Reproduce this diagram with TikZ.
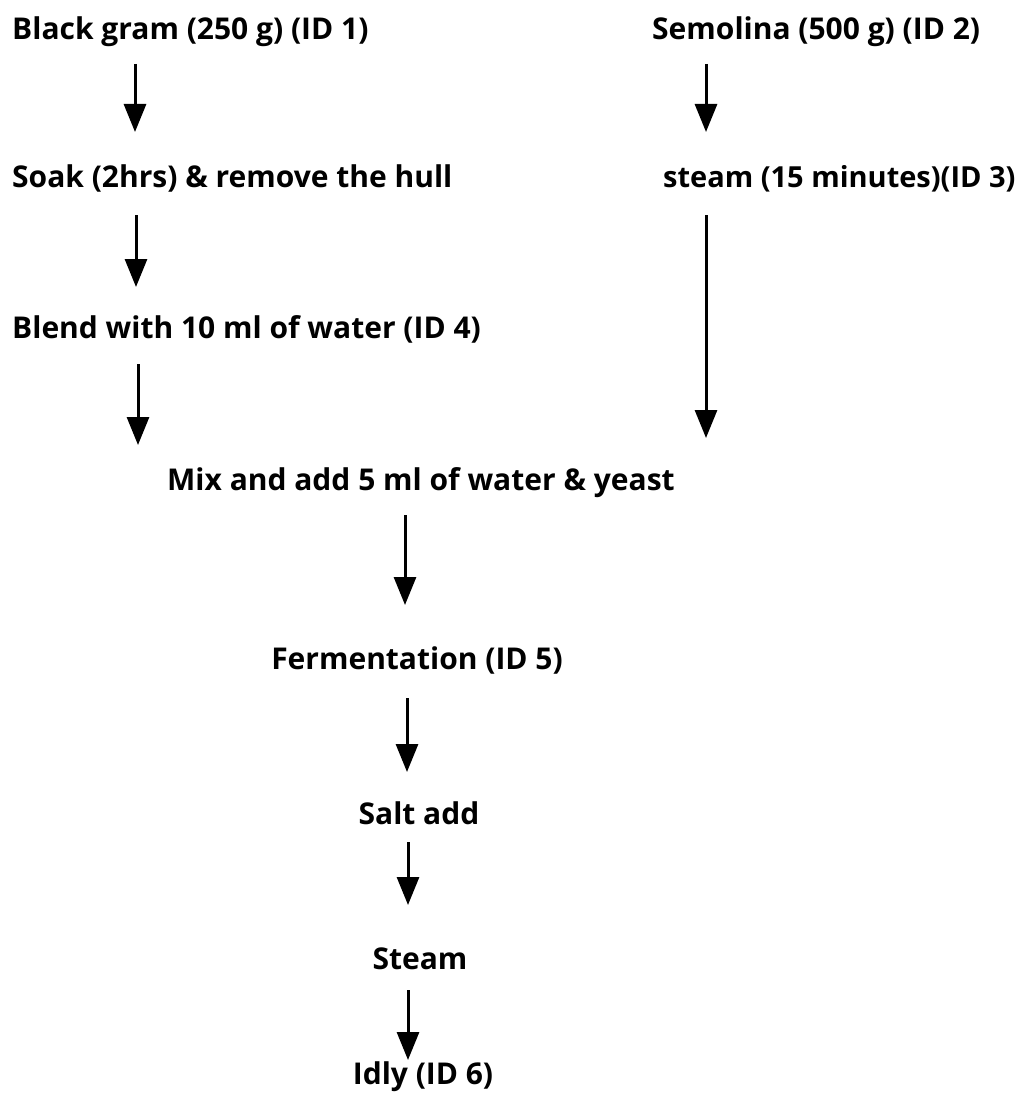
\documentclass[tikz,border=0pt]{standalone}
\usepackage{fontspec}
\setmainfont{Open Sans}
\usetikzlibrary{arrows.meta}
\tikzset{
  lbl/.style={font=\fontsize{30}{36}\selectfont\bfseries, inner sep=0pt, anchor=base west},
  clbl/.style={font=\fontsize{30}{36}\selectfont\bfseries, inner sep=0pt, anchor=base},
  arr/.style={line width=3pt, -{Triangle[width=22pt,length=28pt]}}
}
\begin{document}
\begin{tikzpicture}[x=1pt,y=-1pt]
\useasboundingbox (0,0) rectangle (1027,1094);
\node[lbl] (n1) at (12,40) {Black gram (250 g) (ID 1)};
\node[lbl] (n2) at (652,40) {Semolina (500 g) (ID 2)};
\node[lbl] (n3) at (12,188) {Soak (2hrs) \& remove the hull};
\node[lbl, font=\fontsize{29}{35}\selectfont\bfseries] (n4) at (663,188) {steam (15 minutes)(ID 3)};
\node[lbl] (n5) at (12,338) {Blend with 10 ml of water (ID 4)};
\node[lbl] (n6) at (167,490) {Mix and add 5 ml of water \& yeast};
\node[clbl] (n7) at (417,669) {Fermentation (ID 5)};
\node[clbl] (n8) at (419,824) {Salt add};
\node[clbl] (n9) at (420,969) {Steam};
\node[clbl] (n10) at (423,1084) {Idly (ID 6)};
\coordinate (a1s) at (135,64);  \coordinate (a1e) at (135,132);
\coordinate (a2s) at (706,64);  \coordinate (a2e) at (706,132);
\coordinate (a3s) at (136,215); \coordinate (a3e) at (136,287);
\coordinate (a4s) at (706,215); \coordinate (a4e) at (706,438);
\coordinate (a5s) at (138,364); \coordinate (a5e) at (138,445);
\coordinate (a6s) at (405,515); \coordinate (a6e) at (405,605);
\coordinate (a7s) at (407,698); \coordinate (a7e) at (407,772);
\coordinate (a8s) at (408,842); \coordinate (a8e) at (408,905);
\coordinate (a9s) at (408,990); \coordinate (a9e) at (408,1060);
\draw[arr] (a1s) -- (a1e);
\draw[arr] (a2s) -- (a2e);
\draw[arr] (a3s) -- (a3e);
\draw[arr] (a4s) -- (a4e);
\draw[arr] (a5s) -- (a5e);
\draw[arr] (a6s) -- (a6e);
\draw[arr] (a7s) -- (a7e);
\draw[arr] (a8s) -- (a8e);
\draw[arr] (a9s) -- (a9e);
\end{tikzpicture}
\end{document}
